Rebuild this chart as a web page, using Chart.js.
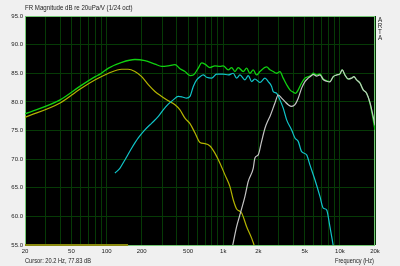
<!DOCTYPE html>
<html><head><meta charset="utf-8">
<script src="https://cdn.jsdelivr.net/npm/chart.js@4.4.1/dist/chart.umd.min.js"></script>
<style>
html,body{margin:0;padding:0;background:#f0f0f0;width:400px;height:266px;overflow:hidden;}
#wrap{position:relative;width:400px;height:266px;}
canvas{position:absolute;left:0;top:0;}
.t{position:absolute;font-family:"Liberation Sans",Arial,sans-serif;color:#222;white-space:nowrap;line-height:1;transform-origin:0 0;}
</style></head><body>
<div id="wrap">
<canvas id="c" width="400" height="266"></canvas>
<div class="t" style="left:25px;top:5px;font-size:6.8px;transform:scaleX(0.9);">FR Magnitude dB re 20uPa/V (1/24 oct)</div>
<div class="t" style="left:377px;top:17px;font-size:6.3px;line-height:6px;text-align:center;width:6px;">A<br>R<br>T<br>A</div>
<div class="t" style="left:25px;top:258px;font-size:6.8px;transform:scaleX(0.84);">Cursor: 20.2 Hz, 77.83 dB</div>
<div class="t" style="left:335px;top:258px;font-size:6.8px;transform:scaleX(0.83);">Frequency (Hz)</div>
</div>
<script>
// Tick labels
const xTickValues = [20,30,40,50,60,70,80,90,100,200,300,400,500,600,700,800,900,1000,2000,3000,4000,5000,6000,7000,8000,9000,10000,20000];
const xTickLabels = {20:"20",50:"50",100:"100",200:"200",500:"500",1000:"1k",2000:"2k",5000:"5k",10000:"10k",20000:"20k"};

// Green: total response
const greenFreq = [20,40,59,80,88,104,135,175,213,260,297,338,386,426,470,519,554,611,653,697,770,849,938,1001,1105,1181,1261,1345,1485,1588,1694,1808,1934,2064,2357,2515,2684,2871,3063,3270,3497,3732,3982,4174,4395,4700,5017,5355,5726,5910,6318,6745,7197,7697,8216,8768,9376,10008,10473,11046,11790,12605,13190,13912,14848,15849,16943,18086,19074,20000];
const greenDb = [77.9,80.35,82.7,84.4,84.85,85.9,86.9,87.4,87.2,86.6,86.2,86.3,86.5,85.8,85.3,84.6,84.7,85.9,86.8,86.6,86.0,86.3,86.2,86.3,85.6,86.0,85.3,86.0,85.3,85.9,85.0,85.6,84.7,85.3,86.1,85.6,85.3,85.0,85.3,84.15,83.0,82.1,81.7,81.5,82.1,83.3,84.15,84.4,84.7,85.0,84.7,84.9,84.0,83.7,83.55,84.4,84.7,84.9,85.6,84.7,84.0,84.15,84.4,83.85,83.3,82.1,81.5,79.8,77.45,75.1];

// Yellow: woofer
const yellowFreq = [20,40,59,80,104,135,153,175,200,228,260,297,338,386,426,470,519,572,632,697,770,849,938,1035,1142,1219,1303,1439,1588,1752,1845];
const yellowDb = [77.3,79.8,82.2,83.85,85.0,85.7,85.7,85.3,84.4,83.0,81.8,80.95,80.2,79.5,78.6,77.15,76.2,74.6,72.9,72.7,72.3,71.05,69.3,67.25,65.2,62.9,61.3,60.6,58.2,56.2,54.9];

// Cyan: midrange
const cyanFreq = [118,130,144,164,187,213,244,278,306,338,373,412,446,486,519,554,592,632,674,721,796,878,1001,1105,1219,1303,1391,1536,1639,1752,1870,2064,2279,2432,2600,2684,2871,3063,3270,3497,3858,4118,4395,4700,5188,5537,6110,6745,7197,7697,8216,8768];
const cyanDb = [67.55,68.4,69.9,71.9,73.7,75.1,76.3,77.45,78.6,79.6,80.35,80.95,80.85,80.65,80.95,82.7,83.85,84.4,84.7,84.3,84.15,84.85,84.85,84.7,85.0,84.15,84.7,83.85,84.6,83.55,84.0,83.4,84.15,83.55,82.7,81.8,81.5,80.35,78.9,76.85,75.1,73.7,73.1,71.3,70.75,69.0,66.4,63.5,61.45,61.15,58.2,54.9];

// White: tweeter
const whiteFreq = [1205,1303,1391,1536,1639,1808,1870,1996,2134,2279,2432,2515,2776,2963,3168,3382,3609,3858,4118,4395,4700,5017,5355,5726,5910,6318,6745,7197,7697,8216,8768,9376,10008,10473,11046,11790,12605,13190,13912,14848,15849,16943,18086,19074,20000];
const whiteDb = [54.9,58.2,60.3,63.5,66.1,68.4,70.2,70.75,73.1,75.4,76.85,77.45,79.8,81.2,80.65,80.05,79.5,79.2,79.5,80.65,82.4,83.55,84.15,84.6,84.8,84.5,84.7,83.9,83.6,83.5,84.4,84.7,84.9,85.6,84.7,84.0,84.15,84.4,83.85,83.3,82.1,81.5,79.9,77.9,75.9];

// Olive: floor trace
const floorFreq = [20,153];
const floorDb = [55,55];

const pts = (f,d) => f.map((v,i)=>({x:v,y:d[i]}));

const frame = {
  id:'frame',
  beforeDraw(chart){
    const a=chart.chartArea, c=chart.ctx;
    c.save(); c.fillStyle='#000'; c.fillRect(a.left,a.top,a.right-a.left,a.bottom-a.top); c.restore();
  },
  beforeDatasetsDraw(chart){
    const a=chart.chartArea, c=chart.ctx;
    c.save(); c.strokeStyle='#74c874'; c.lineWidth=1;
    c.strokeRect(a.left+0.5,a.top+0.5,a.right-a.left-1,a.bottom-a.top);
    c.restore();
  }
};

const ds = (data,color,order,w,extra) => Object.assign({data,borderColor:color,backgroundColor:color,borderWidth:w,pointRadius:0,fill:false,order,cubicInterpolationMode:'monotone'},extra||{});

const tickFont = {family:'"Liberation Sans",Arial',size:6};

new Chart(document.getElementById('c'),{
  type:'line',
  data:{datasets:[
    ds(pts(whiteFreq,whiteDb),'#c4c4c4',0,1.2),
    ds(pts(greenFreq,greenDb),'#10d010',1,1.3),
    ds(pts(cyanFreq,cyanDb),'#10c4c8',2,1.2),
    ds(pts(yellowFreq,yellowDb),'#b4b400',3,1.2),
    ds(pts(floorFreq,floorDb),'#8a8a10',4,2,{clip:false})
  ]},
  options:{
    responsive:false, animation:false, devicePixelRatio:1,
    layout:{padding:{top:16,right:25,left:0,bottom:0}},
    plugins:{legend:{display:false},tooltip:{enabled:false},title:{display:false}},
    scales:{
      x:{type:'logarithmic',min:20,max:20000,
        afterBuildTicks(s){s.ticks=xTickValues.map(v=>({value:v}));},
        afterFit(s){s.height=21;},
        grid:{color:'#063a06',lineWidth:1,drawTicks:false},
        border:{display:false},
        ticks:{autoSkip:false,maxRotation:0,padding:3,color:'#222',font:tickFont,
          callback:(v)=> (xTickLabels[v]!==undefined? xTickLabels[v] : '')}
      },
      y:{min:55,max:95,
        afterFit(s){s.width=25;},
        grid:{color:'#063a06',lineWidth:1,drawTicks:false},
        border:{display:false},
        ticks:{stepSize:5,padding:2,color:'#222',font:tickFont,
          callback:(v)=>Number(v).toFixed(1)}
      }
    }
  },
  plugins:[frame]
});
</script>
</body></html>
